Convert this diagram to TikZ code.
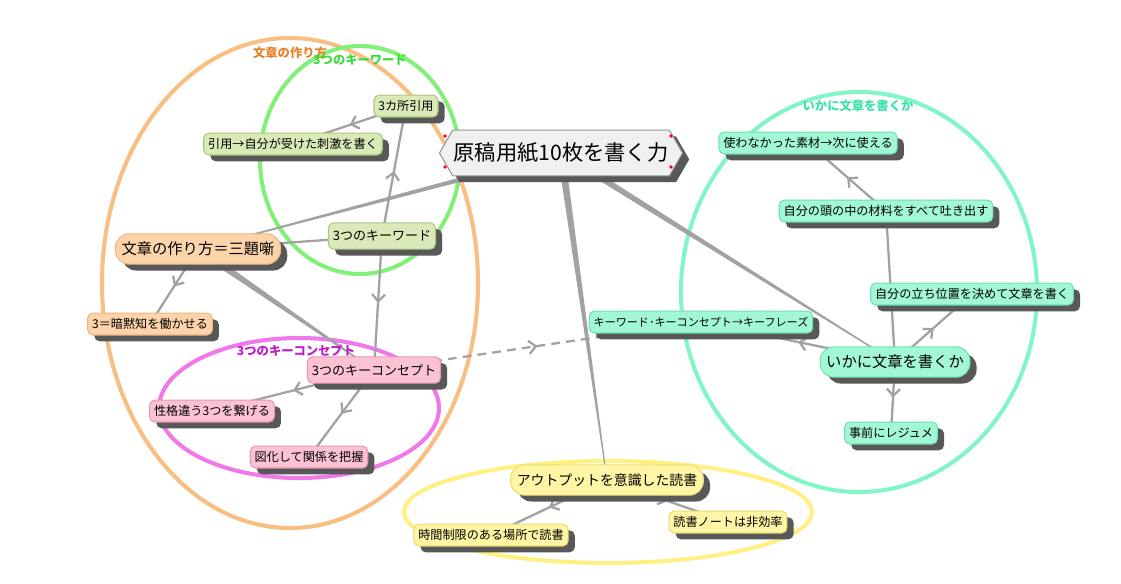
\documentclass[tikz,border=0pt]{standalone}
\usepackage{fontspec}
\setmainfont{Noto Sans CJK JP}
\usetikzlibrary{arrows.meta,calc,shapes.symbols,shadows,decorations.markings}
\definecolor{linkgray}{RGB}{162,162,162}
\definecolor{shadowgray}{RGB}{88,88,88}
\definecolor{hubfill}{RGB}{240,240,240}
\definecolor{hubline}{RGB}{150,150,150}
\definecolor{kwfill}{RGB}{217,234,184}
\definecolor{kwline}{RGB}{170,200,125}
\definecolor{peachfill}{RGB}{253,212,170}
\definecolor{peachline}{RGB}{240,180,130}
\definecolor{pinkfill}{RGB}{251,194,212}
\definecolor{pinkline}{RGB}{235,150,180}
\definecolor{mintfill}{RGB}{162,247,212}
\definecolor{mintline}{RGB}{110,225,180}
\definecolor{yellowfill}{RGB}{255,246,165}
\definecolor{yellowline}{RGB}{235,220,110}
\definecolor{orangering}{RGB}{248,190,130}
\definecolor{greenring}{RGB}{130,240,120}
\definecolor{violetring}{RGB}{240,120,235}
\definecolor{mintring}{RGB}{130,245,200}
\definecolor{yellowring}{RGB}{255,240,130}
\definecolor{orangelabel}{RGB}{232,128,40}
\definecolor{greenlabel}{RGB}{60,220,60}
\definecolor{violetlabel}{RGB}{190,30,200}
\definecolor{mintlabel}{RGB}{60,225,170}

\pgfdeclarelayer{back}
\pgfdeclarelayer{links}
\pgfsetlayers{back,links,main}

\tikzset{
  shade3d/.style={drop shadow={shadow xshift=3.8pt,shadow yshift=-3.6pt,fill=shadowgray,opacity=1}},
  leaf/.style={shade3d,draw,line width=0.6pt,rounded corners=3pt,inner xsep=2.5pt,inner ysep=1pt,
    minimum height=12.5pt,font=\fontsize{6.9}{8}\selectfont},
  sub/.style={leaf,minimum height=15pt,font=\fontsize{7.4}{9}\selectfont},
  branchnode/.style={shade3d,draw,line width=0.6pt,rounded corners=8pt,inner xsep=3.5pt,
    minimum height=17.3pt,font=\fontsize{8.7}{10}\selectfont},
  kwcol/.style={fill=kwfill,draw=kwline},
  peachcol/.style={fill=peachfill,draw=peachline},
  pinkcol/.style={fill=pinkfill,draw=pinkline},
  mintcol/.style={fill=mintfill,draw=mintline},
  yellowcol/.style={fill=yellowfill,draw=yellowline},
  plainlink/.style={draw=linkgray,line width=1.3pt},
  link/.style={plainlink,postaction=decorate,decoration={markings,
    mark=at position .5 with {\arrow{Straight Barb[length=4pt,width=7.5pt]}}}},
  ring/.style={line width=2.3pt},
  ringlabel/.style={font=\bfseries\fontsize{7}{8}\selectfont}
}

\newcommand{\taper}[4]{\fill[linkgray] ($(#1.center)!#3!90:(#2.center)$) -- ($(#1.center)!#3!-90:(#2.center)$)
  -- ($(#2.center)!#4!90:(#1.center)$) -- ($(#2.center)!#4!-90:(#1.center)$) -- cycle;}

\begin{document}
\begin{tikzpicture}[x=0.02cm,y=-0.02cm]
  \useasboundingbox (0,0) rectangle (1121,583);

  \begin{pgfonlayer}{back}
    \draw[ring,orangering] (290,283) ellipse [x radius=188,y radius=245];
    \draw[ring,greenring] (360,160) ellipse [x radius=100,y radius=114];
    \draw[ring,violetring] (299,408) ellipse [x radius=140,y radius=70];
    \draw[ring,mintring] (859,292) ellipse [x radius=178,y radius=200];
    \draw[ring,yellowring] (608,512) ellipse [x radius=204,y radius=51];
  \end{pgfonlayer}
  \node[ringlabel,text=orangelabel] (lblsakuri) at (290,53) {文章の作り方};
  \node[ringlabel,text=greenlabel] (lblkw) at (360,60) {3つのキーワード};
  \node[ringlabel,text=violetlabel] (lblconcept) at (296,351) {3つのキーコンセプト};
  \node[ringlabel,text=mintlabel] (lblkaku) at (858,106) {いかに文章を書くか};

  \node[shade3d,signal,signal to=east and west,signal pointer angle=120,fill=hubfill,draw=hubline,
    line width=0.6pt,minimum height=26pt,inner xsep=0.5pt,font=\fontsize{12.1}{14}\selectfont]
    (hub) at (561,153) {原稿用紙10枚を書く力};
  \foreach \p in {(445,136),(445,167),(671,136),(671,167)}
    \fill[red] \p circle (1.1pt);

  \node[branchnode,peachcol] (sakuri) at (198,249) {文章の作り方＝三題噺};
  \node[leaf,peachcol] (anmoku) at (150,324) {3＝暗黙知を働かせる};
  \node[sub,kwcol] (kw) at (382,236) {3つのキーワード};
  \node[leaf,kwcol] (quote3) at (406,106) {3カ所引用};
  \node[leaf,kwcol] (quoteres) at (293,144) {引用→自分が受けた刺激を書く};
  \node[sub,pinkcol] (concept) at (374,370) {3つのキーコンセプト};
  \node[leaf,pinkcol] (seikaku) at (212,411) {性格違う3つを繋げる};
  \node[leaf,pinkcol] (zuka) at (309,457) {図化して関係を把握};

  \node[branchnode,mintcol] (kaku) at (895,362) {いかに文章を書くか};
  \node[leaf,mintcol,font=\fontsize{6.3}{8}\selectfont] (phrase) at (701,322) {キーワード･キーコンセプト→キーフレーズ};
  \node[leaf,mintcol] (resume) at (891,433) {事前にレジュメ};
  \node[leaf,mintcol] (tachi) at (972,294) {自分の立ち位置を決めて文章を書く};
  \node[leaf,mintcol] (atama) at (886,211) {自分の頭の中の材料をすべて吐き出す};
  \node[leaf,mintcol] (sozai) at (808,143) {使わなかった素材→次に使える};

  \node[branchnode,yellowcol,font=\fontsize{7.9}{9}\selectfont] (output) at (607,480) {アウトプットを意識した読書};
  \node[leaf,yellowcol] (jikan) at (491,535) {時間制限のある場所で読書};
  \node[leaf,yellowcol] (note) at (728,522) {読書ノートは非効率};

  \begin{pgfonlayer}{links}
    \taper{hub}{sakuri}{1.6pt}{0.3pt}
    \taper{hub}{kaku}{1.9pt}{0.3pt}
    \taper{hub}{output}{2.1pt}{0.25pt}
    \taper{sakuri}{concept}{2.1pt}{0.3pt}
    \draw[plainlink] (sakuri.center) -- (kw.center);
    \draw[link] (sakuri.center) -- (anmoku.center);
    \draw[link] (kw.center) -- (quote3.center);
    \draw[link] (quote3.center) -- (quoteres.center);
    \draw[link] (kw.center) -- (concept.center);
    \draw[link] (concept.center) -- (seikaku.center);
    \draw[link] (concept.center) -- (zuka.center);
    \draw[link,dash pattern=on 5pt off 3.5pt] (concept.center) -- (phrase.center);
    \draw[link] (kaku.center) -- (phrase.center);
    \draw[link] (kaku.center) -- (tachi.center);
    \draw[link] (kaku.center) -- (atama.center);
    \draw[link] (atama.center) -- (sozai.center);
    \draw[link] (kaku.center) -- (resume.center);
    \draw[link] (output.center) -- (jikan.center);
    \draw[link] (output.center) -- (note.center);
  \end{pgfonlayer}
\end{tikzpicture}
\end{document}
